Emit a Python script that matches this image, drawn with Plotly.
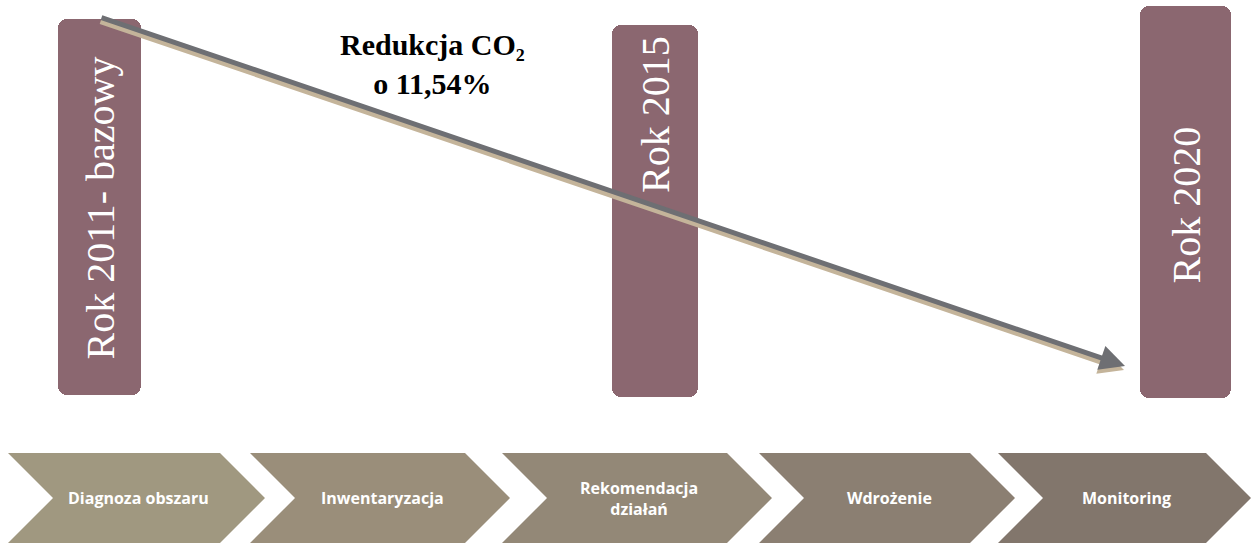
import plotly.graph_objects as go

# Pionowe słupki lat (oś x = piksele, oś y = piksele od góry)
year_labels = ["Rok 2011- bazowy", "Rok 2015", "Rok 2020"]
year_x = [99.5, 655, 1185.5]
year_width = [83, 86, 91]
year_top = [19, 25, 6]
year_bottom = [395, 397, 398]
year_text_y = [208, 115, 205]

# Strzałka redukcji CO2
arrow_start = (100, 17)
arrow_end = (1125, 366)
arrow_label = "<b>Redukcja CO₂<br>o 11,54%</b>"

# Etapy procesu (szewrony)
stages = ["Diagnoza obszaru", "Inwentaryzacja", "Rekomendacja<br>działań", "Wdrożenie", "Monitoring"]
stage_left = [8, 250, 502, 759, 998]
stage_right = [265, 510, 772, 1015, 1251]
stage_colors = ["#a09880", "#9a8e7a", "#938877", "#8b7f72", "#82766c"]
chevron_top, chevron_bottom, notch = 453, 543, 45

fig = go.Figure()

# słupki lat
fig.add_trace(go.Bar(
    x=year_x,
    y=[b - t for t, b in zip(year_top, year_bottom)],
    base=year_top,
    width=year_width,
    marker=dict(color="#8b6770", line_width=0, cornerradius=9),
    hoverinfo="skip",
    showlegend=False,
))

for lab, x, ty in zip(year_labels, year_x, year_text_y):
    fig.add_annotation(x=x, y=ty, text=lab, textangle=-90, showarrow=False,
                       font=dict(family="Liberation Serif", size=40, color="white"))

# szewrony
mid = (chevron_top + chevron_bottom) / 2
for name, l, r, c in zip(stages, stage_left, stage_right, stage_colors):
    xs = [l, r - notch, r, r - notch, l, l + notch, l]
    ys = [chevron_top, chevron_top, mid, chevron_bottom, chevron_bottom, mid, chevron_top]
    fig.add_trace(go.Scatter(x=xs, y=ys, fill="toself", fillcolor=c, mode="lines",
                             line=dict(width=0, color=c), hoverinfo="skip", showlegend=False))
    fig.add_annotation(x=(l + r) / 2 + 2, y=mid, text=f"<b>{name}</b>", showarrow=False,
                       font=dict(family="Open Sans", size=16, color="white"))

# strzałka z cieniem
for dx, dy, col in [(-1, 4, "#c4b49a"), (0, 0, "#6e6f73")]:
    fig.add_annotation(x=arrow_end[0] + dx, y=arrow_end[1] + dy,
                       ax=arrow_start[0] + dx, ay=arrow_start[1] + dy,
                       xref="x", yref="y", axref="x", ayref="y", text="",
                       showarrow=True, arrowhead=2, arrowsize=1, arrowwidth=5, arrowcolor=col)

fig.add_annotation(x=432, y=64, text=arrow_label, showarrow=False,
                   font=dict(family="Liberation Serif", size=30, color="black"))

fig.update_xaxes(range=[0, 1251], visible=False, fixedrange=True)
fig.update_yaxes(range=[544, 0], visible=False, fixedrange=True)
fig.update_layout(
    width=1251, height=544,
    margin=dict(l=0, r=0, t=0, b=0),
    plot_bgcolor="white", paper_bgcolor="white",
    bargap=0,
)

fig.write_html("out.html", config={"displayModeBar": False},
               post_script="document.body.style.margin='0px';")
